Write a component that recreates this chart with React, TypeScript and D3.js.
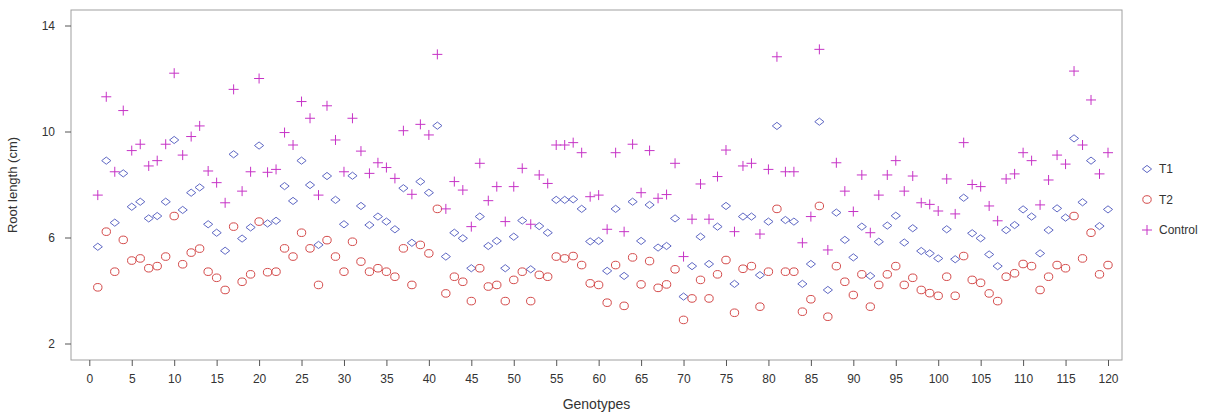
import { useRef, useEffect } from 'react';
import * as d3 from 'd3';

// Root length (cm) per genotype
const genotypes = d3.range(1, 121);

const control = [
  7.6, 11.31, 8.48, 10.79, 9.28, 9.52, 8.7, 8.9, 9.52, 12.2,
  9.11, 9.81, 10.21, 8.51, 8.07, 7.31, 11.59, 7.75, 8.48, 12.0,
  8.46, 8.57, 9.96, 9.49, 11.13, 10.5, 7.6, 10.97, 9.68, 8.48,
  10.5, 9.26, 8.42, 8.82, 8.64, 8.23, 10.03, 7.63, 10.27, 9.87,
  12.91, 7.08, 8.11, 7.79, 6.41, 8.8, 7.39, 7.92, 6.6, 7.92,
  8.61, 6.5, 8.36, 8.04, 9.49, 9.49, 9.58, 9.2, 7.54, 7.6,
  6.31, 9.2, 6.22, 9.52, 7.69, 9.28, 7.48, 7.62, 8.8, 5.28,
  6.69, 8.02, 6.69, 8.3, 9.3, 6.22, 8.7, 8.8, 6.13, 8.57,
  12.82, 8.48, 8.48, 5.8, 6.79, 13.1, 5.53, 8.82, 7.75, 6.98,
  8.36, 6.18, 7.6, 8.36, 8.9, 7.75, 8.32, 7.31, 7.25, 7.0,
  8.21, 6.89, 9.58, 8.0, 7.92, 7.19, 6.63, 8.21, 8.4, 9.2,
  8.9, 7.23, 8.17, 9.11, 8.77, 12.28, 9.49, 11.19, 8.4, 9.2,
];

const t1 = [
  5.65, 8.9, 6.56, 8.42, 7.16, 7.35, 6.72, 6.81, 7.35, 9.68,
  7.04, 7.69, 7.89, 6.5, 6.18, 5.5, 9.14, 5.96, 6.38, 9.47,
  6.53, 6.63, 7.94, 7.38, 8.9, 7.98, 5.72, 8.32, 7.42, 6.5,
  8.33, 7.19, 6.47, 6.79, 6.6, 6.31, 7.86, 5.8, 8.11, 7.69,
  10.22, 5.28, 6.18, 5.97, 4.84, 6.79, 5.68, 5.87, 4.84, 6.03,
  6.64, 4.8, 6.43, 6.18, 7.42, 7.42, 7.44, 7.08, 5.85, 5.87,
  4.74, 7.08, 4.55, 7.35, 5.87, 7.23, 5.62, 5.68, 6.72, 3.77,
  4.92, 6.03, 5.0, 6.41, 7.19, 4.25, 6.79, 6.79, 4.58, 6.6,
  10.21, 6.66, 6.6, 4.25, 5.0, 10.37, 4.02, 6.94, 5.91, 5.25,
  6.41, 4.55, 5.84, 6.45, 6.82, 5.81, 6.35, 5.49, 5.4, 5.21,
  6.31, 5.18, 7.5, 6.16, 5.97, 5.36, 4.92, 6.28, 6.47, 7.06,
  6.79, 5.4, 6.28, 7.1, 6.75, 9.74, 7.33, 8.9, 6.43, 7.06,
];

const t2 = [
  4.12, 6.22, 4.71, 5.91, 5.13, 5.21, 4.84, 4.92, 5.28, 6.81,
  4.99, 5.43, 5.58, 4.71, 4.48, 4.02, 6.41, 4.33, 4.61, 6.6,
  4.69, 4.71, 5.59, 5.28, 6.18, 5.59, 4.21, 5.9, 5.28, 4.71,
  5.84, 5.09, 4.71, 4.84, 4.71, 4.52, 5.59, 4.21, 5.72, 5.4,
  7.08, 3.89, 4.52, 4.33, 3.6, 4.84, 4.15, 4.21, 3.6, 4.4,
  4.71, 3.6, 4.59, 4.52, 5.28, 5.21, 5.3, 4.96, 4.27, 4.21,
  3.54, 4.96, 3.42, 5.25, 4.23, 5.11, 4.1, 4.23, 4.8, 2.89,
  3.7, 4.4, 3.7, 4.61, 5.15, 3.16, 4.82, 4.92, 3.39, 4.71,
  7.08, 4.71, 4.71, 3.2, 3.67, 7.19, 3.01, 4.92, 4.33, 3.83,
  4.61, 3.39, 4.21, 4.61, 4.92, 4.21, 4.48, 4.02, 3.9, 3.8,
  4.52, 3.8, 5.3, 4.4, 4.29, 3.89, 3.6, 4.52, 4.65, 5.0,
  4.92, 4.02, 4.52, 4.96, 4.84, 6.81, 5.21, 6.18, 4.61, 4.96,
];

const xTicks = d3.range(0, 121, 5);
const yTicks = [2, 6, 10, 14];

const seriesNames = ['T1', 'T2', 'Control'];
const seriesColors = ['#5f68c4', '#d44a4a', '#c633c6'];

const W = 1225;
const H = 416;
const FONT = 'Liberation Sans, Arial, sans-serif';

// marker outlines, drawn with thin strokes like the printed figure
const markers = [
  'M0,-3.6L4.6,0L0,3.6L-4.6,0Z',
  'M4.2,0A4.2,3.8 0 1,1 -4.2,0A4.2,3.8 0 1,1 4.2,0Z',
  'M-5,0H5M0,-5V5',
];

export default function App() {
  const svgRef = useRef(null);

  useEffect(() => {
    const svg = d3.select(svgRef.current);
    svg.selectAll('*').remove();

    const box = { left: 71, right: 1122, top: 10, bottom: 360 };

    const x = d3.scaleLinear().domain([0, 120]).range([89.3, 1108]);
    const y = d3.scaleLinear().domain([2, 14]).range([343.5, 25.5]);

    svg.append('rect')
      .attr('width', W).attr('height', H).attr('fill', '#fff');

    // plot frame
    svg.append('rect')
      .attr('x', box.left).attr('y', box.top)
      .attr('width', box.right - box.left).attr('height', box.bottom - box.top)
      .attr('fill', 'none').attr('stroke', '#a0a0a0').attr('stroke-width', 1);

    const xAxis = svg.append('g')
      .attr('transform', `translate(0,${box.bottom})`)
      .call(d3.axisBottom(x).tickValues(xTicks).tickSize(6).tickPadding(8).tickSizeOuter(0));
    const yAxis = svg.append('g')
      .attr('transform', `translate(${box.left},0)`)
      .call(d3.axisLeft(y).tickValues(yTicks).tickSize(6).tickPadding(10).tickSizeOuter(0));

    [xAxis, yAxis].forEach(ax => {
      ax.select('.domain').remove();
      ax.selectAll('line').attr('stroke', '#555');
      ax.selectAll('text')
        .attr('fill', '#333')
        .attr('font-family', FONT)
        .attr('font-size', 12);
    });

    svg.append('text')
      .attr('x', (box.left + box.right) / 2)
      .attr('y', 409)
      .attr('text-anchor', 'middle')
      .attr('font-family', FONT)
      .attr('font-size', 14)
      .attr('fill', '#333')
      .text('Genotypes');

    svg.append('text')
      .attr('transform', `translate(17,${(box.top + box.bottom) / 2}) rotate(-90)`)
      .attr('text-anchor', 'middle')
      .attr('font-family', FONT)
      .attr('font-size', 13)
      .attr('fill', '#333')
      .text('Root length (cm)');

    const series = [t1, t2, control];

    series.forEach((vals, i) => {
      svg.append('g')
        .selectAll('path')
        .data(vals)
        .enter()
        .append('path')
        .attr('transform', (d, j) => `translate(${x(genotypes[j])},${y(d)})`)
        .attr('d', markers[i])
        .attr('fill', 'none')
        .attr('stroke', seriesColors[i])
        .attr('stroke-width', 1);
    });

    // legend
    const legend = svg.append('g').attr('transform', 'translate(1147,169)');
    seriesNames.forEach((name, i) => {
      const row = legend.append('g').attr('transform', `translate(0,${i * 30.5})`);
      row.append('path')
        .attr('d', markers[i])
        .attr('fill', 'none')
        .attr('stroke', seriesColors[i])
        .attr('stroke-width', 1);
      row.append('text')
        .attr('x', 12)
        .attr('y', 4)
        .attr('font-family', FONT)
        .attr('font-size', 12)
        .attr('fill', '#333')
        .text(name);
    });
  }, []);

  return (
    <svg ref={svgRef} width={W} height={H}
      style={{ position: 'absolute', left: 0, top: 0 }} />
  );
}
